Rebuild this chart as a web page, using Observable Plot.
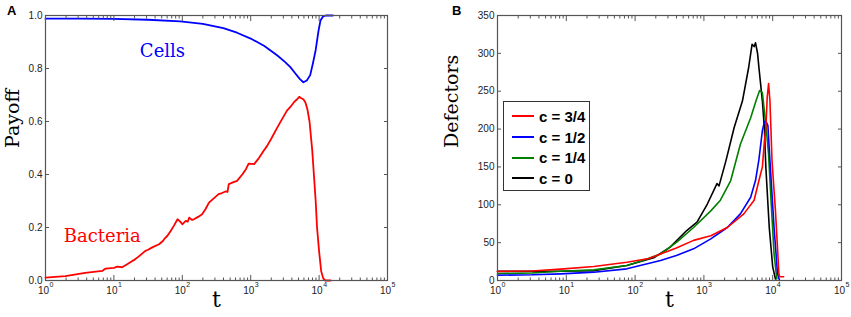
<!DOCTYPE html>
<html>
<head>
<meta charset="utf-8">
<script src="https://cdn.jsdelivr.net/npm/d3@7"></script>
<script src="https://cdn.jsdelivr.net/npm/@observablehq/plot@0.6"></script>
<style>
  body { margin: 0; background: #fff; }
  #wrap { position: relative; width: 851px; height: 317px; font-family: "Liberation Sans", Arial, sans-serif; }
  .panel { position: absolute; top: 0; }
  .tag { position: absolute; font-weight: bold; font-size: 13px; }
  #legend { position: absolute; left: 503px; top: 101px; width: 87px; height: 90px; border: 1px solid #333; box-sizing: border-box; background: #fff; padding-top: 4px; }
  .row { display: flex; align-items: center; height: 20.7px; font-weight: bold; font-size: 15px; }
  .row span.sw { display: inline-block; width: 22px; height: 2px; margin-left: 8px; margin-right: 5px; }
</style>
</head>
<body>
<div id="wrap">
  <div class="tag" style="left:7px;top:3px">A</div>
  <div class="tag" style="left:452px;top:3px">B</div>
  <div class="panel" id="pa" style="left:0"></div>
  <div class="panel" id="pb" style="left:430px"></div>
  <div id="legend"></div>
</div>
<script>
// ---------- Panel A data (log10 t, payoff) ----------
const cellsLogT = [0, 0.5, 1, 1.5, 1.97, 2.3, 2.6, 2.8, 3.0, 3.2, 3.39, 3.5, 3.58, 3.65, 3.72, 3.77, 3.82, 3.87, 3.91, 3.95, 3.99, 4.02, 4.06, 4.1, 4.2];
const cellsPayoff = [0.988, 0.988, 0.987, 0.984, 0.978, 0.968, 0.952, 0.935, 0.913, 0.885, 0.849, 0.825, 0.805, 0.782, 0.76, 0.748, 0.755, 0.775, 0.82, 0.87, 0.94, 0.981, 0.997, 1.0, 1.0];

const bactLogT = [0, 0.29, 0.58, 0.83, 0.86, 0.88, 1.0, 1.05, 1.12, 1.2, 1.27, 1.3, 1.36, 1.46, 1.5, 1.56, 1.66, 1.72, 1.74, 1.78, 1.83, 1.88, 1.93, 1.97, 2.0, 2.05, 2.08, 2.1, 2.14, 2.17, 2.23, 2.29, 2.34, 2.39, 2.46, 2.53, 2.58, 2.63, 2.66, 2.68, 2.74, 2.8, 2.88, 2.93, 2.97, 3.02, 3.05, 3.12, 3.19, 3.24, 3.3, 3.39, 3.45, 3.53, 3.58, 3.63, 3.67, 3.71, 3.74, 3.77, 3.8, 3.83, 3.86, 3.9, 3.92, 3.95, 3.97, 4.0, 4.03, 4.06, 4.09, 4.17];
const bactPayoff = [0.011, 0.0165, 0.029, 0.036, 0.042, 0.045, 0.048, 0.052, 0.05, 0.062, 0.074, 0.078, 0.09, 0.112, 0.116, 0.125, 0.137, 0.15, 0.158, 0.168, 0.187, 0.208, 0.231, 0.222, 0.212, 0.225, 0.222, 0.237, 0.229, 0.231, 0.24, 0.25, 0.27, 0.294, 0.31, 0.326, 0.33, 0.336, 0.334, 0.364, 0.37, 0.376, 0.401, 0.42, 0.441, 0.44, 0.439, 0.462, 0.49, 0.508, 0.535, 0.578, 0.605, 0.641, 0.655, 0.672, 0.682, 0.693, 0.688, 0.684, 0.672, 0.645, 0.6, 0.49, 0.414, 0.3, 0.2, 0.11, 0.036, 0.008, 0.0, 0.0];

// ---------- Panel B data (log10 t, defectors) ----------
const seriesNames = ["c = 3/4", "c = 1/2", "c = 1/4", "c = 0"];
const seriesColors = ["#ff0000", "#0000ff", "#007f00", "#000000"];

const red34LogT = [0, 0.5, 0.92, 1.4, 1.88, 2.2, 2.37, 2.6, 2.85, 3.1, 3.34, 3.58, 3.73, 3.8, 3.85, 3.88, 3.9, 3.92, 3.94, 3.96, 3.99, 4.04, 4.09, 4.1, 4.16];
const red34Val  = [12, 12.5, 15, 18.5, 24, 29, 35, 43, 53, 59, 70, 88, 106, 132, 150, 185, 200, 242, 260, 237, 158, 92, 9, 5, 5];

const blue12LogT = [0, 0.5, 0.92, 1.4, 1.88, 2.37, 2.6, 2.85, 3.1, 3.34, 3.53, 3.68, 3.75, 3.8, 3.85, 3.88, 3.9, 3.93, 3.96, 4.02, 4.07, 4.1];
const blue12Val  = [7, 7.5, 8.8, 11, 15.4, 26.4, 33, 41.8, 55, 70, 88, 110, 132, 160, 198, 210, 210, 205, 158, 70, 9, 0];

const green14LogT = [0, 0.5, 0.92, 1.4, 1.88, 2.1, 2.37, 2.61, 2.85, 3.1, 3.24, 3.39, 3.53, 3.68, 3.76, 3.81, 3.85, 3.9, 3.94, 3.97, 4.02, 4.06];
const green14Val  = [9, 10, 12.3, 14, 19.8, 26, 35, 51, 70, 92, 106, 132, 180, 215, 238, 251, 248, 206, 167, 115, 35, 2];

const black0LogT = [0, 0.5, 0.92, 1.4, 1.88, 2.27, 2.51, 2.75, 2.9, 3.05, 3.19, 3.22, 3.32, 3.44, 3.56, 3.65, 3.7, 3.73, 3.75, 3.78, 3.8, 3.85, 3.88, 3.9, 3.95, 4.0, 4.04];
const black0Val  = [12, 12, 12.3, 13, 19.8, 30, 44, 66, 77, 101, 128, 125, 158, 202, 237, 281, 312, 309, 314, 300, 281, 237, 200, 150, 70, 18, 2];

// ---------- Axis ticks ----------
const decades = [1, 10, 100, 1000, 10000, 100000];
const minorMult = [2, 3, 4, 5, 6, 7, 8, 9];
const payoffTicks = [0, 0.2, 0.4, 0.6, 0.8, 1.0];
const defectorTicks = [0, 50, 100, 150, 200, 250, 300, 350];

const minorTicks = decades.slice(0, -1).flatMap(d => minorMult.map(m => d * m));
const expFmt = d => String(Math.round(Math.log10(d)));

const toRows = (logT, vals, name) => logT.map((e, i) => ({t: Math.pow(10, e), v: vals[i], s: name}));

const serif = "'DejaVu Serif', 'Liberation Serif', serif";
const tickFont = "'Liberation Sans', Arial, sans-serif";

function axes(yTicks, yFmt) {
  return [
    Plot.axisX({anchor: "bottom", ticks: decades, tickSize: 0, tickPadding: 6, dx: -2, tickFormat: () => "10", fontSize: 10, fontFamily: tickFont, fill: "#222", label: null}),
    Plot.axisX({anchor: "bottom", ticks: decades, tickSize: 0, tickPadding: 2, dx: 6, textAnchor: "middle", tickFormat: expFmt, fontSize: 7, fontFamily: tickFont, fill: "#222", label: null}),
    Plot.axisX({anchor: "bottom", ticks: decades, tickSize: -5, tickFormat: () => "", label: null, stroke: "#555"}),
    Plot.axisX({anchor: "bottom", ticks: minorTicks, tickSize: -2.5, tickFormat: () => "", label: null, stroke: "#555"}),
    Plot.axisX({anchor: "top", ticks: decades, tickSize: -5, tickFormat: () => "", label: null, stroke: "#555"}),
    Plot.axisX({anchor: "top", ticks: minorTicks, tickSize: -2.5, tickFormat: () => "", label: null, stroke: "#555"}),
    Plot.axisY({anchor: "left", ticks: yTicks, tickSize: 0, tickPadding: 3, tickFormat: yFmt, fontSize: 10, fontFamily: tickFont, fill: "#222", label: null}),
    Plot.axisY({anchor: "left", ticks: yTicks, tickSize: -4, tickFormat: () => "", label: null, stroke: "#555"}),
    Plot.axisY({anchor: "right", ticks: yTicks, tickSize: -4, tickFormat: () => "", label: null, stroke: "#555"})
  ];
}

// ---------- Panel A ----------
const dataA = [...toRows(cellsLogT, cellsPayoff, "Cells"), ...toRows(bactLogT, bactPayoff, "Bacteria")];
const chartA = Plot.plot({
  width: 420, height: 317,
  marginLeft: 45, marginRight: 33, marginTop: 15, marginBottom: 37,
  x: {type: "log", domain: [1, 1e5], axis: null},
  y: {domain: [0, 1], axis: null},
  style: {background: "transparent"},
  marks: [
    Plot.line(dataA, {x: "t", y: "v", z: "s", stroke: d => d.s === "Cells" ? "#0000ff" : "#ff0000", strokeWidth: 1.8}),
    Plot.text(["Cells"], {x: Math.pow(10, 1.71), y: 0.866, text: d => d, fill: "#0000ff", fontSize: 18, fontFamily: serif}),
    Plot.text(["Bacteria"], {x: Math.pow(10, 0.83), y: 0.168, text: d => d, fill: "#ff0000", fontSize: 18, fontFamily: serif}),
    ...axes(payoffTicks, d3.format(".1f")),
    Plot.frame({stroke: "#555", strokeWidth: 1.2}),
    Plot.text(["Payoff"], {frameAnchor: "left", dx: -33, rotate: -90, text: d => d, fontSize: 19, fontFamily: serif, fill: "#000"}),
    Plot.text(["t"], {frameAnchor: "bottom", dy: 26, text: d => d, fontSize: 22, fontFamily: serif, fill: "#000"})
  ]
});
document.getElementById("pa").appendChild(chartA);

// ---------- Panel B ----------
const dataB = [
  ...toRows(black0LogT, black0Val, seriesNames[3]),
  ...toRows(green14LogT, green14Val, seriesNames[2]),
  ...toRows(blue12LogT, blue12Val, seriesNames[1]),
  ...toRows(red34LogT, red34Val, seriesNames[0])
];
const chartB = Plot.plot({
  width: 421, height: 317,
  marginLeft: 67, marginRight: 10, marginTop: 15, marginBottom: 37,
  x: {type: "log", domain: [1, 1e5], axis: null},
  y: {domain: [0, 350], axis: null},
  color: {domain: seriesNames, range: seriesColors},
  style: {background: "transparent"},
  marks: [
    Plot.line(dataB, {x: "t", y: "v", z: "s", stroke: "s", strokeWidth: 1.6}),
    ...axes(defectorTicks, d3.format("d")),
    Plot.frame({stroke: "#555", strokeWidth: 1.2}),
    Plot.text(["Defectors"], {frameAnchor: "left", dx: -46, rotate: -90, text: d => d, fontSize: 19, fontFamily: serif, fill: "#000"}),
    Plot.text(["t"], {frameAnchor: "bottom", dy: 26, text: d => d, fontSize: 22, fontFamily: serif, fill: "#000"})
  ]
});
document.getElementById("pb").appendChild(chartB);

// ---------- Legend ----------
const leg = document.getElementById("legend");
seriesNames.forEach((n, i) => {
  const r = document.createElement("div");
  r.className = "row";
  r.innerHTML = `<span class="sw" style="background:${seriesColors[i]}"></span><span>${n}</span>`;
  leg.appendChild(r);
});
</script>
</body>
</html>
